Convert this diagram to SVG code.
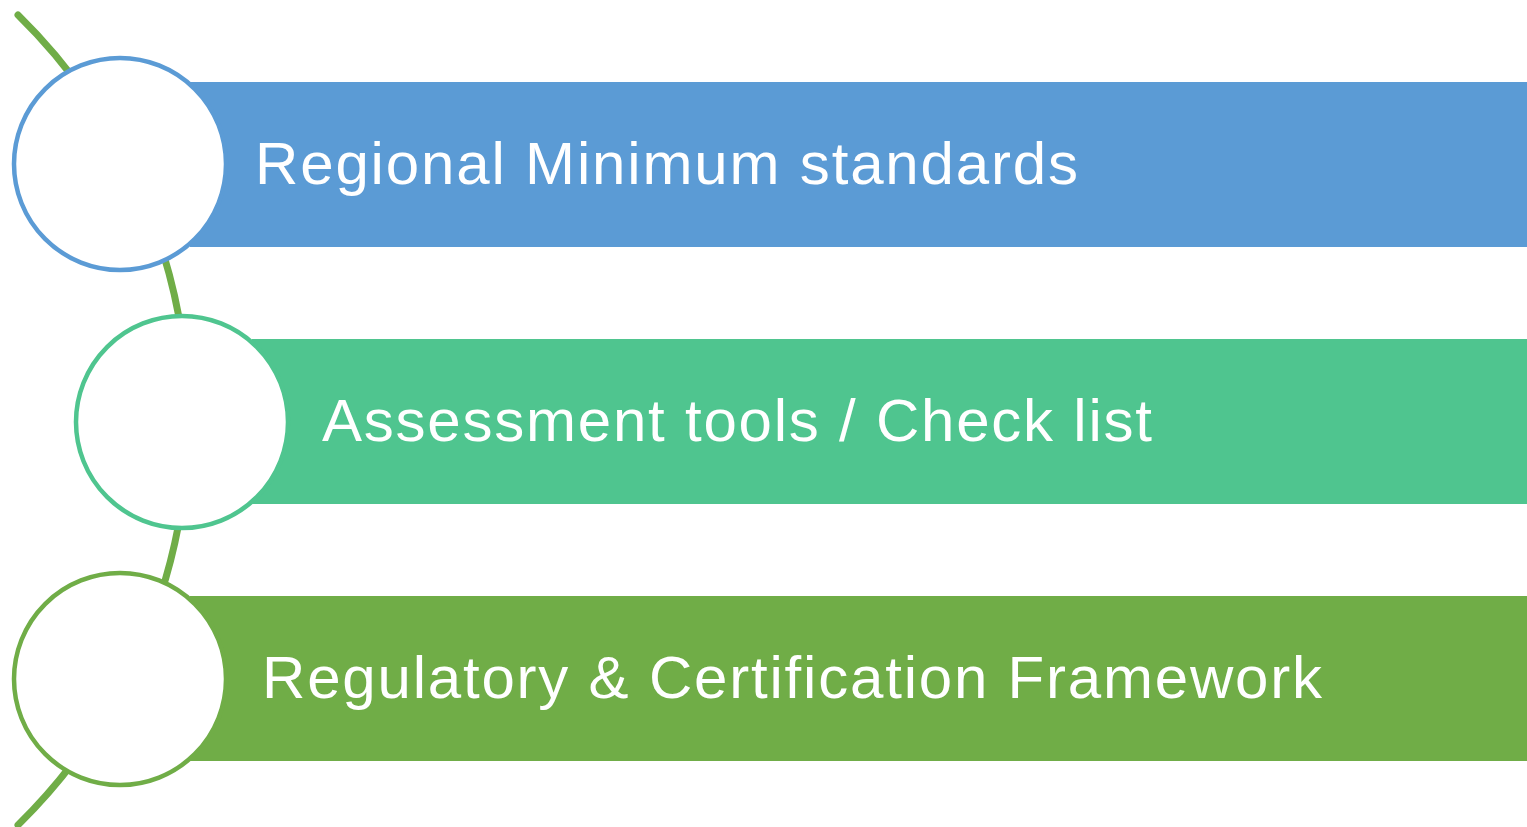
<svg xmlns="http://www.w3.org/2000/svg" width="1527" height="827" viewBox="0 0 1527 827">
<style>
.lbl{font-family:"Liberation Sans",Arial,sans-serif;font-size:60px;fill:#ffffff}
.circ{fill:#ffffff;stroke-width:4.5}
</style>
<rect width="1527" height="827" fill="#ffffff"/>
<g id="connectors">
<path d="M 18 15 A 567 567 0 0 1 18 825" fill="none" stroke="#70AD47" stroke-width="7" stroke-linecap="round"/>
</g>
<g id="node1">
<rect x="190" y="82" width="1337" height="165" fill="#5B9BD5"/>
<circle cx="120" cy="164" r="106" class="circ" stroke="#5B9BD5"/>
<text x="255" y="184" class="lbl" textLength="823" lengthAdjust="spacing">Regional Minimum standards</text>
</g>
<g id="node2">
<rect x="252" y="339" width="1275" height="165" fill="#4FC58F"/>
<circle cx="182" cy="422" r="106" class="circ" stroke="#4FC58F"/>
<text x="322" y="441" class="lbl" textLength="830" lengthAdjust="spacing">Assessment tools / Check list</text>
</g>
<g id="node3">
<rect x="190" y="596" width="1337" height="165" fill="#70AD47"/>
<circle cx="120" cy="679" r="106" class="circ" stroke="#70AD47"/>
<text x="262" y="698" class="lbl" textLength="1060" lengthAdjust="spacing">Regulatory &amp; Certification Framework</text>
</g>
</svg>
